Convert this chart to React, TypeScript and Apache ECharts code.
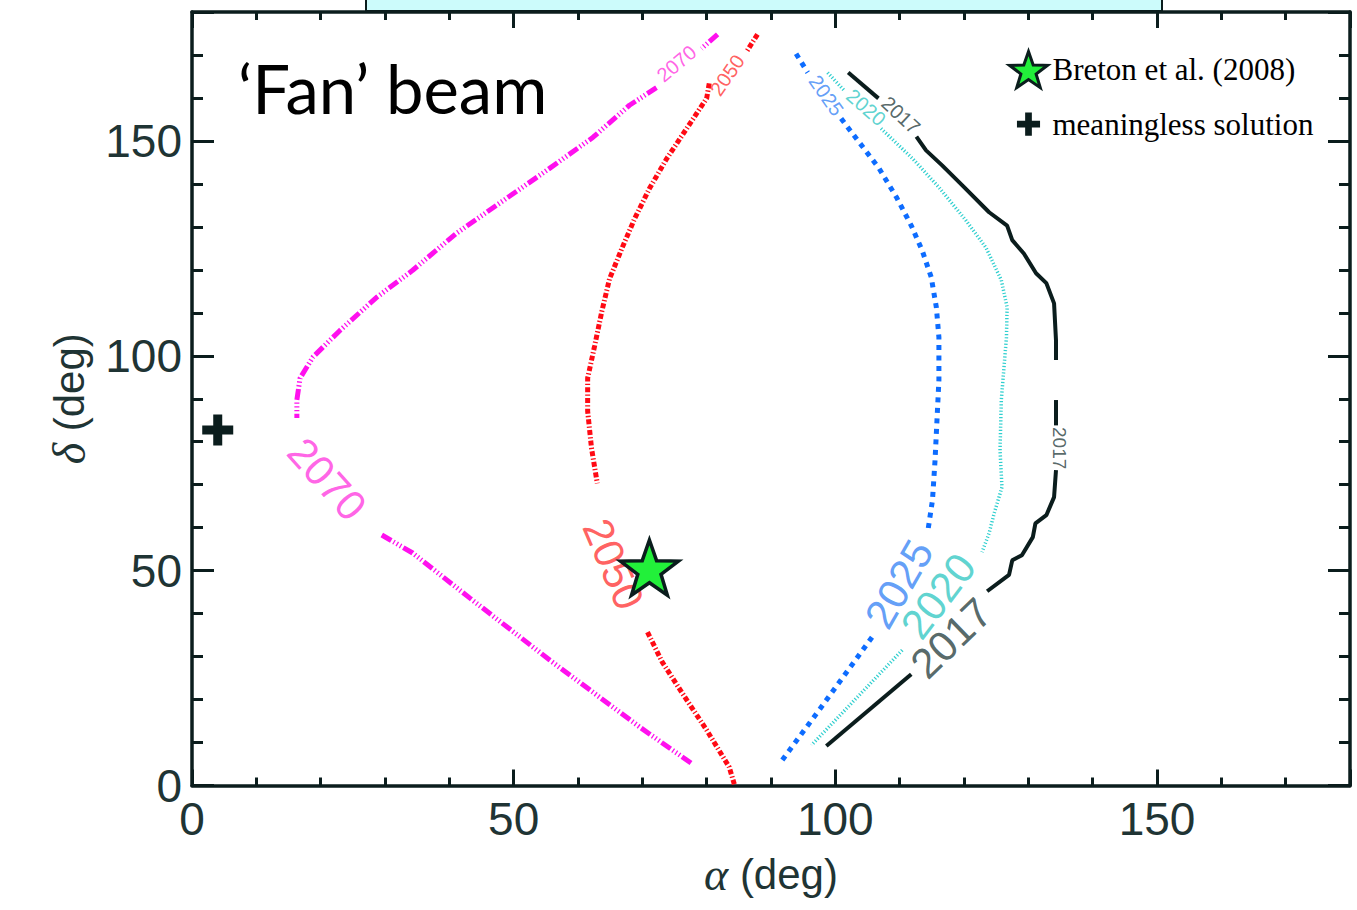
import React, { useEffect, useRef } from "react";
import * as echarts from "echarts";

// ---------- data ----------
const AXIS_MIN = 0;
const AXIS_MAX = 180;
const MAJOR_STEP = 50;
const MINOR_STEP = 10;

// contour 2017 (segments, [alpha, delta])
const c2017 = [
  [[102.0, 165.9], [106.7, 159.9]],
  [[112.6, 151.0], [114.1, 147.8], [116.6, 144.3], [119.7, 139.7], [123.9, 133.4], [126.7, 130.3], [127.5, 126.9], [129.3, 123.8], [131.2, 119.2], [132.8, 116.9], [134.0, 112.2], [134.3, 103.6], [134.3, 99.0]],
  [[134.3, 89.7], [134.3, 83.8]],
  [[134.3, 73.4], [134.0, 67.1], [132.8, 62.9], [131.1, 61.0], [130.7, 57.8], [129.0, 53.6], [127.5, 52.4], [127.0, 49.0], [123.6, 45.2]],
  [[111.8, 25.9], [98.6, 9.2]],
];
const c2020 = [
  [[98.8, 165.9], [101.4, 161.7]],
  [[107.1, 152.9], [112.0, 145.9], [116.1, 139.2], [120.3, 131.5], [123.4, 125.2], [125.8, 117.6], [126.7, 111.3], [126.6, 104.3], [125.8, 89.7], [125.6, 78.0], [125.9, 69.4], [124.7, 63.4], [123.9, 58.7], [122.8, 54.3]],
  [[110.4, 31.5], [96.3, 9.4]],
];
const c2025 = [
  [[93.9, 170.3], [95.7, 165.9]],
  [[100.9, 155.2], [103.7, 149.7], [106.8, 143.6], [109.5, 136.9], [111.8, 130.3], [113.5, 124.5], [114.9, 118.3], [115.7, 111.3], [116.1, 104.3], [116.1, 94.3], [115.8, 85.0], [115.5, 75.7], [115.1, 66.4], [114.4, 59.4]],
  [[105.7, 34.5], [97.5, 17.6], [91.3, 5.0]],
];
const c2050 = [
  [[87.9, 174.8], [86.3, 171.0]],
  [[80.4, 163.4], [80.0, 159.9], [76.9, 152.9], [73.8, 145.9], [71.1, 138.9], [68.8, 131.9], [66.8, 124.9], [64.9, 117.9], [63.7, 110.3], [62.6, 102.4], [61.5, 94.8], [61.5, 87.1], [62.1, 78.5], [63.0, 70.3]],
  [[70.8, 35.7], [73.1, 28.7], [76.2, 21.5], [80.0, 12.9], [83.5, 4.3], [84.3, 0.3]],
];
const c2070 = [
  [[81.7, 174.8], [79.2, 171.5]],
  [[72.2, 162.4], [68.0, 158.3], [62.3, 150.8], [55.1, 143.1], [47.8, 135.5], [41.1, 128.5], [34.3, 119.9], [28.7, 113.6], [23.0, 105.9], [18.8, 99.7], [16.8, 94.8], [16.3, 89.7], [16.3, 85.5]],
  [[29.5, 58.3], [34.3, 54.1], [43.2, 43.6], [55.6, 29.2], [69.6, 13.6], [73.1, 9.9], [77.6, 5.2]],
];

// contour labels: [alpha, delta, text, rotation, fontSize, color]
const contourLabels: [number, number, string, number, number, string][] = [
  [75.3, 168.0, "2070", 40, 20, "#ff3ce0"],
  [21.0, 71.3, "2070", -48, 42, "#ff3ce0"],
  [83.2, 165.3, "2050", 55, 20, "#ff3838"],
  [65.5, 51.5, "2050", -67, 42, "#ff3838"],
  [98.6, 160.6, "2025", -55, 20, "#3a86f5"],
  [109.9, 46.9, "2025", 60, 42, "#3a86f5"],
  [104.8, 157.8, "2020", -41, 20, "#36c8c4"],
  [116.0, 44.1, "2020", 53, 42, "#36c8c4"],
  [110.2, 156.0, "2017", -43, 20, "#2b4242"],
  [134.8, 78.5, "2017", -90, 19, "#2b4242"],
  [118.0, 34.3, "2017", 44, 42, "#2b4242"],
];

const bretonPoint = [[71.1, 50.7]];
const meaninglessPoint = [[4.0, 82.7]];

const legendNames = ["Breton et al. (2008)", "meaningless solution"];

// ---------- styles ----------
const AX = "#0b1d1d";
const LABEL_COLOR = "#1f3434";
const STAR =
  "path://M50,0L61.76,33.82L97.55,34.55L69.02,56.18L79.39,90.45L50,70L20.61,90.45L30.98,56.18L2.45,34.55L38.24,33.82Z";
const PLUS = "path://M11,0h9v11h11v9h-11v11h-9v-11h-11v-9h11z";
const PLUS_LEGEND = "path://M-10,-10M41,41M11,0h9v11h11v9h-11v11h-9v-11h-11v-9h11z";

const contourStyles = [
  { segs: c2017, color: "#0b1d1d", width: 4, type: "solid" as any },
  { segs: c2020, color: "#2fcfcf", width: 3.5, type: [1.2, 2] },
  { segs: c2025, color: "#0d6cff", width: 5, type: [5, 5.5] },
  { segs: c2050, color: "#ff0a14", width: 5, type: [5, 2.2, 1.3, 2.2] },
  { segs: c2070, color: "#ff10ee", width: 5, type: [11, 2.5, 1.3, 2.5, 1.3, 2.5, 1.3, 2.5] },
];

function App() {
  const ref = useRef<HTMLDivElement>(null);
  useEffect(() => {
    if (!ref.current) return;
    const chart = echarts.init(ref.current, null, { renderer: "svg" });

    const lineSeries: any[] = [];
    contourStyles.forEach((c) => {
      c.segs.forEach((seg) => {
        lineSeries.push({
          type: "line",
          data: seg,
          symbol: "none",
          smooth: false,
          silent: true,
          z: 3,
          lineStyle: { color: c.color, width: c.width, type: c.type, cap: "butt", opacity: 1 },
        });
      });
    });

    const labelCfg = {
      show: true,
      margin: 10,
      fontFamily: "Liberation Sans",
      fontSize: 46,
      color: LABEL_COLOR,
      formatter: (v: number) => (v === AXIS_MAX ? "" : String(v)),
    };

    const majorX = (position: string, labels: boolean) => ({
      type: "value",
      position,
      min: AXIS_MIN,
      max: AXIS_MAX,
      interval: MAJOR_STEP,
      axisLine: { show: true, onZero: false, lineStyle: { color: AX, width: 3.5 } },
      axisTick: { show: true, inside: true, length: 16, lineStyle: { color: AX, width: 3 } },
      axisLabel: labels ? labelCfg : { show: false },
      splitLine: { show: false },
    });
    const minorX = (position: string) => ({
      type: "value",
      position,
      min: AXIS_MIN,
      max: AXIS_MAX,
      interval: MINOR_STEP,
      axisLine: { show: false, onZero: false },
      axisTick: { show: true, inside: true, length: 8, lineStyle: { color: AX, width: 3 } },
      axisLabel: { show: false },
      splitLine: { show: false },
    });
    const majorY = (position: string, labels: boolean) => ({
      type: "value",
      position,
      min: AXIS_MIN,
      max: AXIS_MAX,
      interval: MAJOR_STEP,
      axisLine: { show: true, onZero: false, lineStyle: { color: AX, width: 3.5 } },
      axisTick: { show: true, inside: true, length: 22, lineStyle: { color: AX, width: 3 } },
      axisLabel: labels ? labelCfg : { show: false },
      splitLine: { show: false },
    });
    const minorY = (position: string) => ({
      type: "value",
      position,
      min: AXIS_MIN,
      max: AXIS_MAX,
      interval: MINOR_STEP,
      axisLine: { show: false, onZero: false },
      axisTick: { show: true, inside: true, length: 11, lineStyle: { color: AX, width: 3 } },
      axisLabel: { show: false },
      splitLine: { show: false },
    });

    const nameStyle = {
      fontFamily: "Liberation Sans",
      fontSize: 42,
      color: LABEL_COLOR,
      rich: { g: { fontFamily: "Liberation Serif", fontStyle: "italic", fontSize: 46, color: LABEL_COLOR } },
    };
    const xMain: any = majorX("bottom", true);
    xMain.name = "{g|α} (deg)";
    xMain.nameLocation = "middle";
    xMain.nameGap = 66;
    xMain.nameTextStyle = nameStyle;
    const yMain: any = majorY("left", true);
    yMain.name = "{g|δ} (deg)";
    yMain.nameLocation = "middle";
    yMain.nameGap = 100;
    yMain.nameTextStyle = nameStyle;

    const option: any = {
      animation: false,
      backgroundColor: "#ffffff",
      grid: { left: 192, right: 7, top: 12, bottom: 124.5, containLabel: false, outerBoundsMode: "none" },
      xAxis: [xMain, minorX("bottom"), majorX("top", false), minorX("top")],
      yAxis: [yMain, minorY("left"), majorY("right", false), minorY("right")],
      legend: {
        show: true,
        orient: "vertical",
        left: 1003,
        top: 45,
        itemWidth: 38,
        itemHeight: 38,
        itemGap: 16,
        selectedMode: false,
        data: [
          { name: legendNames[0], icon: STAR, itemStyle: { color: "#22f03a", borderColor: AX, borderWidth: 3, opacity: 1 } },
          { name: legendNames[1], icon: PLUS_LEGEND, itemStyle: { color: AX, borderWidth: 0, opacity: 1 } },
        ],
        textStyle: { fontFamily: "Liberation Serif", fontSize: 31, color: "#000" },
      },
      graphic: [
        {
          type: "rect",
          shape: { x: 366, y: -6, width: 796, height: 17 },
          style: { fill: "#ccfbfb", stroke: AX, lineWidth: 2 },
          z: 0,
        },
        {
          type: "text",
          x: 238,
          y: 88,
          style: {
            text: "‘Fan’ beam",
            fontFamily: "Lato",
            fontSize: 67,
            fill: "#000",
            align: "left",
            verticalAlign: "middle",
          },
          z: 10,
        },
      ],
      series: [
        ...lineSeries,
        {
          type: "scatter",
          silent: true,
          symbol: "circle",
          symbolSize: 1,
          itemStyle: { color: "rgba(0,0,0,0)" },
          z: 6,
          data: contourLabels.map((l) => ({
            value: [l[0], l[1]],
            label: {
              show: true,
              position: "inside",
              formatter: l[2],
              rotate: l[3],
              fontSize: l[4],
              color: l[5],
              fontFamily: "Liberation Sans",
            },
          })),
        },
        {
          type: "scatter",
          name: legendNames[1],
          symbol: PLUS,
          symbolSize: 31,
          symbolKeepAspect: true,
          itemStyle: { color: AX, borderWidth: 0, opacity: 1 },
          z: 8,
          data: meaninglessPoint,
        },
        {
          type: "scatter",
          name: legendNames[0],
          symbol: STAR,
          symbolSize: 58,
          symbolKeepAspect: true,
          itemStyle: { color: "#22f03a", borderColor: AX, borderWidth: 3.5, opacity: 1 },
          z: 9,
          data: bretonPoint,
        },
      ],
    };
    chart.setOption(option);
    return () => chart.dispose();
  }, []);
  return <div ref={ref} style={{ width: 1357, height: 910, position: "absolute", left: 0, top: 0 }} />;
}

export default App;
